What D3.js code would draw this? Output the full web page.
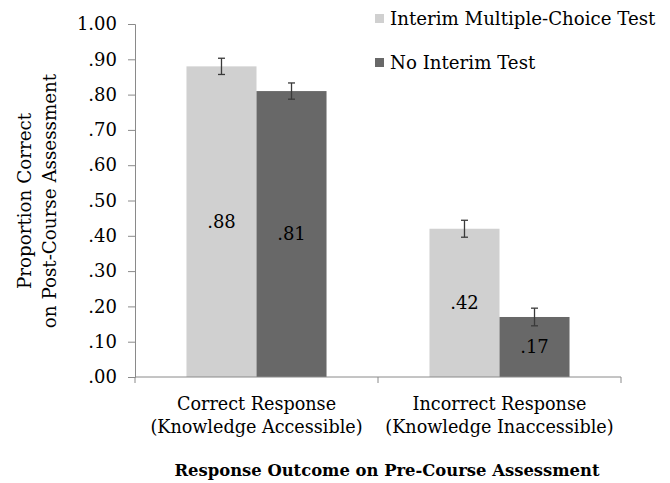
<!DOCTYPE html>
<html>
<head>
<meta charset="utf-8">
<script src="https://cdn.jsdelivr.net/npm/d3@7"></script>
<style>
  html, body { margin: 0; padding: 0; background: #fff; }
  svg { display: block; }
  text { font-family: "DejaVu Serif", "Liberation Serif", serif; fill: #000; }
</style>
</head>
<body>
<svg id="chart" width="670" height="483"></svg>
<script>
// Outcome categories on the pre-course assessment
const categories = [
  ["Correct Response", "(Knowledge Accessible)"],
  ["Incorrect Response", "(Knowledge Inaccessible)"]
];
const seriesNames = ["Interim Multiple-Choice Test", "No Interim Test"];
// Proportion correct on the post-course assessment, per series
const interimValues = [0.88, 0.42];
const noTestValues = [0.81, 0.17];
// Standard errors
const interimErrors = [0.023, 0.024];
const noTestErrors = [0.023, 0.025];
const yTicks = [0, 0.1, 0.2, 0.3, 0.4, 0.5, 0.6, 0.7, 0.8, 0.9, 1.0];
const colors = ["#d0d0d0", "#686868"];

const svg = d3.select("#chart");
const margin = { left: 135, right: 49, top: 24, bottom: 106 };
const W = 670, H = 483;

const x0 = d3.scaleBand().domain(d3.range(categories.length))
  .range([margin.left, W - margin.right]).paddingInner(0).paddingOuter(0);
const x1 = d3.scaleBand().domain(d3.range(seriesNames.length))
  .range([0, x0.bandwidth()]).paddingInner(0).paddingOuter(0.735);
const y = d3.scaleLinear().domain([0, 1]).range([H - margin.bottom, margin.top]);

const series = [
  { name: seriesNames[0], values: interimValues, errors: interimErrors, color: colors[0] },
  { name: seriesNames[1], values: noTestValues, errors: noTestErrors, color: colors[1] }
];

const fmt = v => v === 1 ? "1.00" : d3.format(".2f")(v).replace(/^0/, "");

// Y axis
const yAxis = svg.append("g")
  .attr("transform", `translate(${margin.left},0)`)
  .call(d3.axisLeft(y).tickValues(yTicks).tickFormat(fmt).tickSize(7).tickPadding(11));
yAxis.select(".domain").attr("stroke", "#8a8a8a");
yAxis.selectAll(".tick line").attr("stroke", "#8a8a8a");
yAxis.selectAll(".tick text").style("font-size", "18px").attr("fill", "#000")
  .style("font-family", "DejaVu Serif, serif");

// Bars
const groups = svg.append("g").selectAll("g")
  .data(categories.map((c, i) => i))
  .join("g")
  .attr("transform", i => `translate(${x0(i)},0)`);

series.forEach((s, si) => {
  groups.append("rect")
    .attr("x", x1(si))
    .attr("width", x1.bandwidth())
    .attr("y", i => y(s.values[i]))
    .attr("height", i => y(0) - y(s.values[i]))
    .attr("fill", s.color);
});

// Error bars
series.forEach((s, si) => {
  const cx = x1(si) + x1.bandwidth() / 2;
  groups.each(function (i) {
    const g = d3.select(this);
    const top = y(s.values[i] + s.errors[i]);
    const bot = y(s.values[i] - s.errors[i]);
    g.append("line").attr("x1", cx).attr("x2", cx).attr("y1", top).attr("y2", bot)
      .attr("stroke", "#3a3a3a").attr("stroke-width", 1.3);
    [top, bot].forEach(yy => g.append("line")
      .attr("x1", cx - 3.5).attr("x2", cx + 3.5).attr("y1", yy).attr("y2", yy)
      .attr("stroke", "#3a3a3a").attr("stroke-width", 1.3));
  });
});

// Value labels centred in each bar
series.forEach((s, si) => {
  groups.append("text")
    .attr("x", x1(si) + x1.bandwidth() / 2)
    .attr("y", i => (y(s.values[i]) + y(0)) / 2)
    .attr("dy", "0.35em")
    .attr("text-anchor", "middle")
    .style("font-size", "18px")
    .text(i => fmt(s.values[i]));
});

// X axis
const xAxis = svg.append("g")
  .attr("transform", `translate(0,${y(0)})`);
xAxis.append("line").attr("x1", margin.left).attr("x2", W - margin.right)
  .attr("y1", 0).attr("y2", 0).attr("stroke", "#8a8a8a");
[margin.left, x0(1), W - margin.right].forEach(xx =>
  xAxis.append("line").attr("x1", xx).attr("x2", xx).attr("y1", 0).attr("y2", 6)
    .attr("stroke", "#8a8a8a"));
categories.forEach((c, i) => {
  const t = xAxis.append("text")
    .attr("x", x0(i) + x0.bandwidth() / 2)
    .attr("text-anchor", "middle")
    .style("font-size", "17.6px");
  c.forEach((line, li) => t.append("tspan")
    .attr("x", x0(i) + x0.bandwidth() / 2).attr("y", 27 + li * 23)
    .attr("dy", "0.35em").text(line));
});

// Axis titles
svg.append("text")
  .attr("x", 387).attr("y", 470).attr("dy", "0.35em")
  .attr("text-anchor", "middle")
  .style("font-size", "16.4px").style("font-weight", "bold")
  .text("Response Outcome on Pre-Course Assessment");

const yTitle = svg.append("text")
  .attr("transform", "translate(0,201) rotate(-90)")
  .attr("text-anchor", "middle")
  .style("font-size", "18.3px");
yTitle.append("tspan").attr("x", 0).attr("y", 25).attr("dy", "0.35em").text("Proportion Correct");
yTitle.append("tspan").attr("x", 0).attr("y", 50).attr("dy", "0.35em").text("on Post-Course Assessment");

// Legend
const legend = svg.append("g");
series.forEach((s, si) => {
  const ly = 19 + si * 44;
  legend.append("rect").attr("x", 375).attr("y", ly - 5).attr("width", 9).attr("height", 9)
    .attr("fill", s.color);
  legend.append("text").attr("x", 390).attr("y", ly).attr("dy", "0.35em")
    .style("font-size", "18.2px").text(s.name);
});
</script>
</body>
</html>
